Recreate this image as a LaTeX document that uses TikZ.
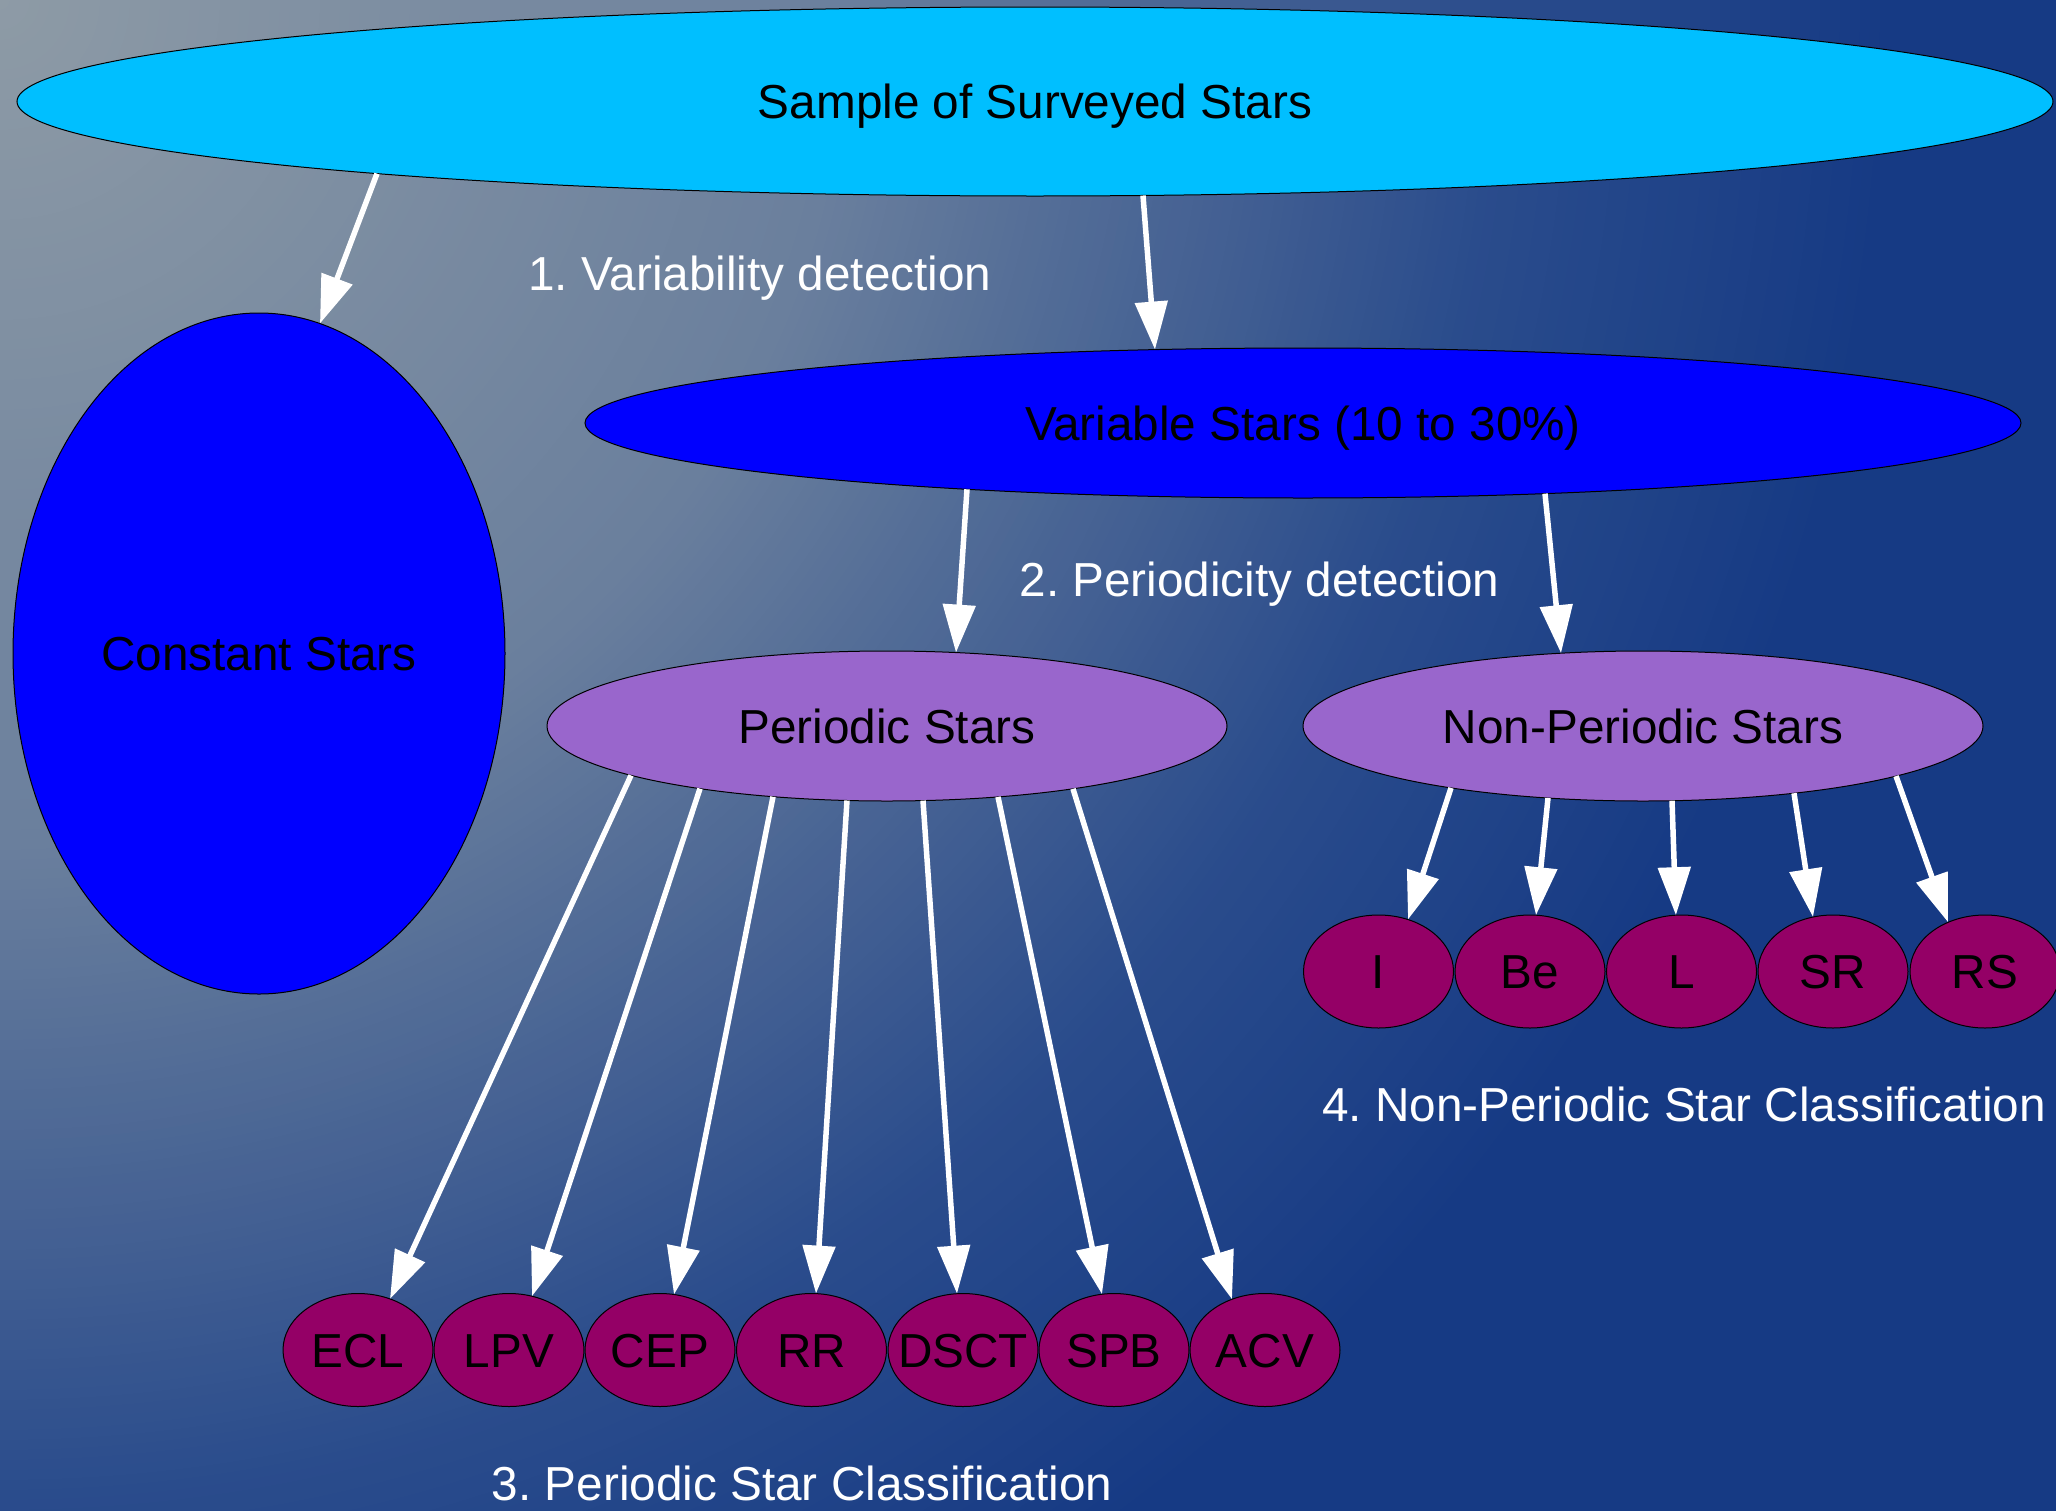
\documentclass[tikz,border=0pt]{standalone}
\usepackage{fontspec}
\setmainfont{Liberation Sans}
\usetikzlibrary{shapes.geometric,arrows.meta,calc}
\definecolor{bgA}{HTML}{8E9BA6}
\definecolor{bgB}{HTML}{6A7F9D}
\definecolor{bgC}{HTML}{2A4C8C}
\definecolor{bgD}{HTML}{163A84}
\definecolor{skyc}{HTML}{00BFFF}
\definecolor{bluec}{HTML}{0000FF}
\definecolor{purpc}{HTML}{9966CC}
\definecolor{magc}{HTML}{940066}
\newcommand{\ctrtxt}[1]{\makebox[0pt]{#1}}
\frenchspacing
\tikzset{
  ell/.style={ellipse, draw=black, line width=1pt, inner sep=0pt, outer sep=0pt, text height=34.2pt, text depth=0pt, text=black},
  leaf/.style={ell, fill=magc, minimum width=150pt, minimum height=113pt},
  lab/.style={inner sep=0pt, text height=34.2pt, text depth=0pt, text=white},
  edge/.style={draw=white, line width=5.5pt, -{Triangle[length=48pt,width=32pt]}}
}
\begin{document}
\begin{tikzpicture}[x=1pt,y=-1pt,font=\fontsize{47.7pt}{57pt}\selectfont]
\useasboundingbox (0,0) rectangle (2056,1510);
\fill[bgD] (-20,-20) rectangle (2076,1530);
\begin{scope}
\clip (-20,-20) rectangle (2076,1530);
\foreach \r in {1900,1890,...,1510} {\pgfmathsetmacro\p{(\r-1500)/4}\fill[bgD!\p!bgC] (0,0) circle (\r pt);}
\foreach \r in {1500,1490,...,860} {\pgfmathsetmacro\p{(\r-850)/6.5}\fill[bgC!\p!bgB] (0,0) circle (\r pt);}
\foreach \r in {850,840,...,10} {\pgfmathsetmacro\p{\r/8.5}\fill[bgB!\p!bgA] (0,0) circle (\r pt);}
\end{scope}
% main nodes
\node[ell, fill=skyc, minimum width=2036pt, minimum height=189pt] (n0) at (1035,101.5) {\ctrtxt{Sample of Surveyed Stars}};
\node[ell, fill=bluec, minimum width=492pt, minimum height=681pt] (n1) at (259,653.5) {\ctrtxt{Constant Stars}};
\node[ell, fill=bluec, minimum width=1436pt, minimum height=150pt] (n2) at (1303,423) {\ctrtxt{Variable Stars (10 to 30\%)}};
\node[ell, fill=purpc, minimum width=680pt, minimum height=150pt] (n3) at (887,726) {\ctrtxt{Periodic Stars}};
\node[ell, fill=purpc, minimum width=680pt, minimum height=150pt] (n4) at (1643,726) {\ctrtxt{Non-Periodic Stars}};
% periodic classes
\node[leaf] (ecl) at (358,1350) {\ctrtxt{ECL}};
\node[leaf] (lpv) at (509,1350) {\ctrtxt{LPV}};
\node[leaf] (cep) at (660,1350) {\ctrtxt{CEP}};
\node[leaf] (rr) at (811.5,1350) {\ctrtxt{RR}};
\node[leaf] (dsct) at (963,1350) {\ctrtxt{DSCT}};
\node[leaf] (spb) at (1114,1350) {\ctrtxt{SPB}};
\node[leaf] (acv) at (1265,1350) {\ctrtxt{ACV}};
% non-periodic classes
\node[leaf] (ni) at (1378.5,971.5) {\ctrtxt{I}};
\node[leaf] (nbe) at (1530,971.5) {\ctrtxt{Be}};
\node[leaf] (nl) at (1681.5,971.5) {\ctrtxt{L}};
\node[leaf] (nsr) at (1833,971.5) {\ctrtxt{SR}};
\node[leaf] (nrs) at (1985,971.5) {\ctrtxt{RS}};
% edges (border points given relative to node centres)
\draw[edge] ($(n0)+(-658,72.1)$) -- ($(n1)+(61,-330)$);
\draw[edge] ($(n0)+(108,94)$) -- ($(n2)+(-148,-73.4)$);
\draw[edge] ($(n2)+(-336,66.3)$) -- ($(n3)+(69,-73.4)$);
\draw[edge] ($(n2)+(242,70.6)$) -- ($(n4)+(-82,-72.8)$);
\draw[edge] ($(n3)+(-256,49.4)$) -- ($(ecl)+(32,-51.1)$);
\draw[edge] ($(n3)+(-187,62.6)$) -- ($(lpv)+(23,-53.8)$);
\draw[edge] ($(n3)+(-114,70.7)$) -- ($(cep)+(14,-55.5)$);
\draw[edge] ($(n3)+(-40,74.5)$) -- ($(rr)+(4.5,-56.4)$);
\draw[edge] ($(n3)+(36,74.6)$) -- ($(dsct)+(-6,-56.3)$);
\draw[edge] ($(n3)+(111,70.9)$) -- ($(spb)+(-12,-55.8)$);
\draw[edge] ($(n3)+(186,62.8)$) -- ($(acv)+(-33,-50.7)$);
\draw[edge] ($(n4)+(-192,61.9)$) -- ($(ni)+(29.5,-52)$);
\draw[edge] ($(n4)+(-95,72)$) -- ($(nbe)+(6,-56.3)$);
\draw[edge] ($(n4)+(29,74.7)$) -- ($(nl)+(-5.6,-56.3)$);
\draw[edge] ($(n4)+(151,67.2)$) -- ($(nsr)+(-20,-54.5)$);
\draw[edge] ($(n4)+(253,50.1)$) -- ($(nrs)+(-37,-49.3)$);
% stage labels
\node[lab] (l1) at (760,273.5) {1. Variability detection};
\node[lab] (l2) at (1259.5,579.5) {2. Periodicity detection};
\node[lab] (l3) at (802,1483) {3. Periodic Star Classification};
\node[lab] (l4) at (1684,1104.5) {4. Non-Periodic Star Classification};
\end{tikzpicture}
\end{document}
